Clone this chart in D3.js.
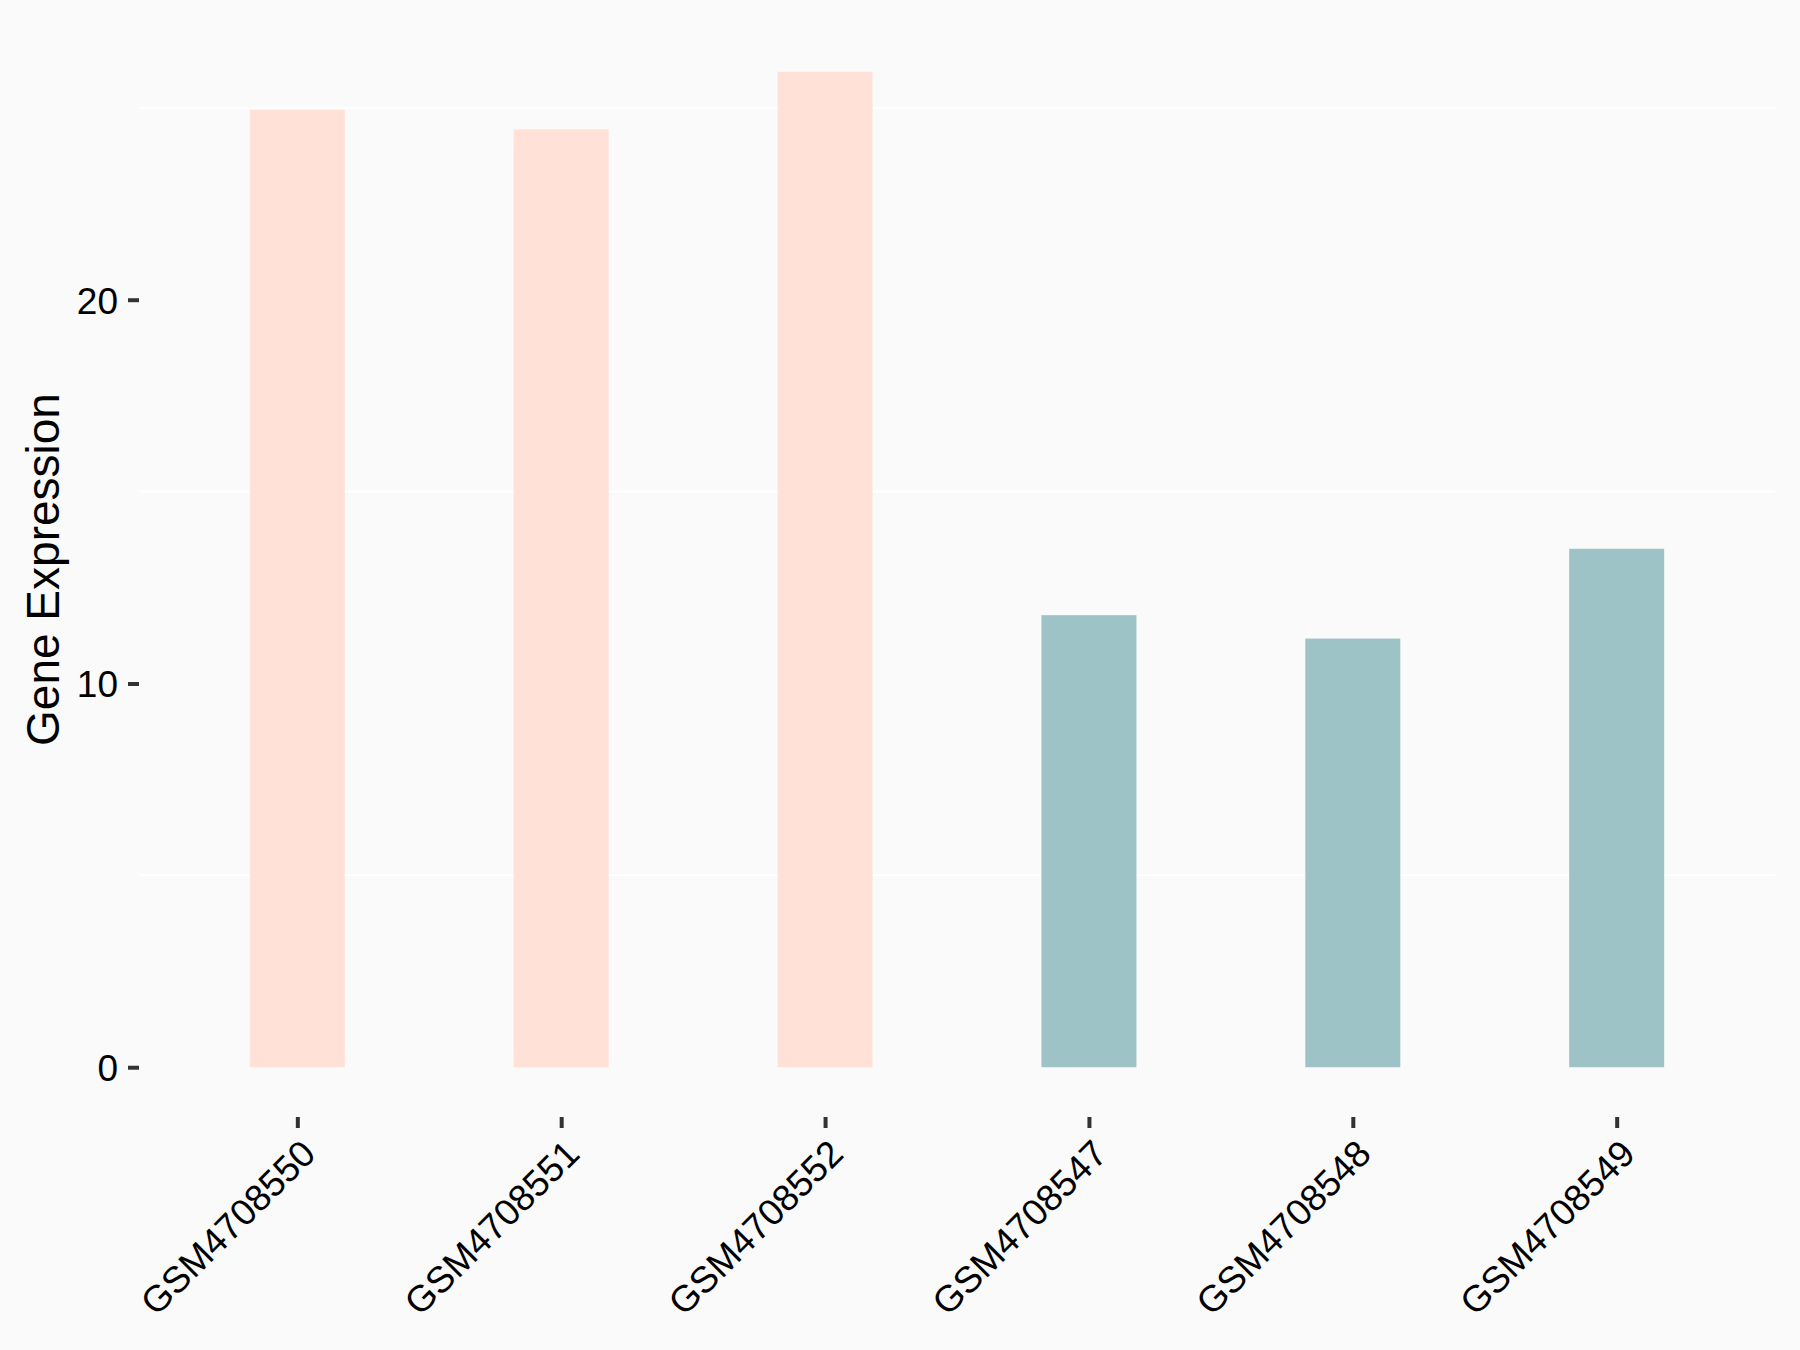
<!DOCTYPE html>
<html lang="en">
<head>
    <meta charset="UTF-8">
    <title>gene expression</title>
    <script src="https://cdn.jsdelivr.net/npm/d3@7/dist/d3.min.js"></script>
    <style>
        body { margin: 0; background: #FAFAFA; }
        text { font-family: "Liberation Sans", Arial, sans-serif; }
    </style>
</head>
<body>

<svg width="1800" height="1350"></svg>

<script>

    // data
    var samples = ["GSM4708550", "GSM4708551", "GSM4708552", "GSM4708547", "GSM4708548", "GSM4708549"];
    var values = [24.95, 24.44, 25.94, 11.78, 11.17, 13.51];
    var groups = ["high", "high", "high", "low", "low", "low"];
    var yTicks = [0, 10, 20];
    var yMinor = [5, 15, 25];
    var groupColors = {high: "#FFE1D7", low: "#9DC3C7"};

    var svg = d3.select("svg");
    var margin = {top: 22, right: 25, bottom: 233, left: 139};
    var width = +svg.attr("width") - margin.left - margin.right;
    var height = +svg.attr("height") - margin.top - margin.bottom;

    svg.append("rect").attr("width", 1800).attr("height", 1350).attr("fill", "#FAFAFA");

    var g = svg.append("g")
        .attr("transform", "translate(" + margin.left + "," + margin.top + ")");

    // ggplot-like 5% expansion
    var yMax = d3.max(values);
    var pad = yMax * 0.05;
    var y = d3.scaleLinear().domain([-pad, yMax + pad]).range([height, 0]);

    var x = d3.scalePoint().domain(samples).range([0, width]).padding(0.6);
    var barW = x.step() * 0.36;

    // minor gridlines
    g.append("g")
        .selectAll("line")
        .data(yMinor)
        .enter()
        .append("line")
        .attr("x1", 0)
        .attr("x2", width)
        .attr("y1", function (d) { return y(d); })
        .attr("y2", function (d) { return y(d); })
        .attr("stroke", "#FFFFFF")
        .attr("stroke-width", 2);

    // bars
    g.append("g")
        .selectAll("rect")
        .data(samples)
        .enter()
        .append("rect")
        .attr("x", function (d) { return x(d) - barW / 2; })
        .attr("width", barW)
        .attr("y", function (d, i) { return y(values[i]); })
        .attr("height", function (d, i) { return y(0) - y(values[i]); })
        .attr("fill", function (d, i) { return groupColors[groups[i]]; });

    // y axis
    var yAxis = g.append("g")
        .call(d3.axisLeft(y).tickValues(yTicks).tickSize(11).tickPadding(10));
    yAxis.select(".domain").remove();
    yAxis.selectAll(".tick line").attr("stroke", "#333333").attr("stroke-width", 4);
    yAxis.selectAll(".tick text")
        .attr("fill", "#000000")
        .style("font-size", "37px")
        .attr("dy", "0.36em");

    // x axis
    var xAxis = g.append("g")
        .attr("transform", "translate(0," + height + ")")
        .call(d3.axisBottom(x).tickSize(11).tickPadding(0));
    xAxis.select(".domain").remove();
    xAxis.selectAll(".tick line").attr("stroke", "#333333").attr("stroke-width", 4);
    xAxis.selectAll(".tick text")
        .attr("fill", "#000000")
        .style("font-size", "37px")
        .attr("text-anchor", "end")
        .attr("y", 0)
        .attr("dy", "0.72em")
        .attr("transform", "translate(1,20) rotate(-45)");

    // y title
    svg.append("text")
        .attr("transform", "translate(42," + (margin.top + height / 2) + ") rotate(-90)")
        .attr("text-anchor", "middle")
        .attr("dy", "0.36em")
        .style("font-size", "46px")
        .attr("fill", "#000000")
        .text("Gene Expression");

</script>
</body>
</html>
